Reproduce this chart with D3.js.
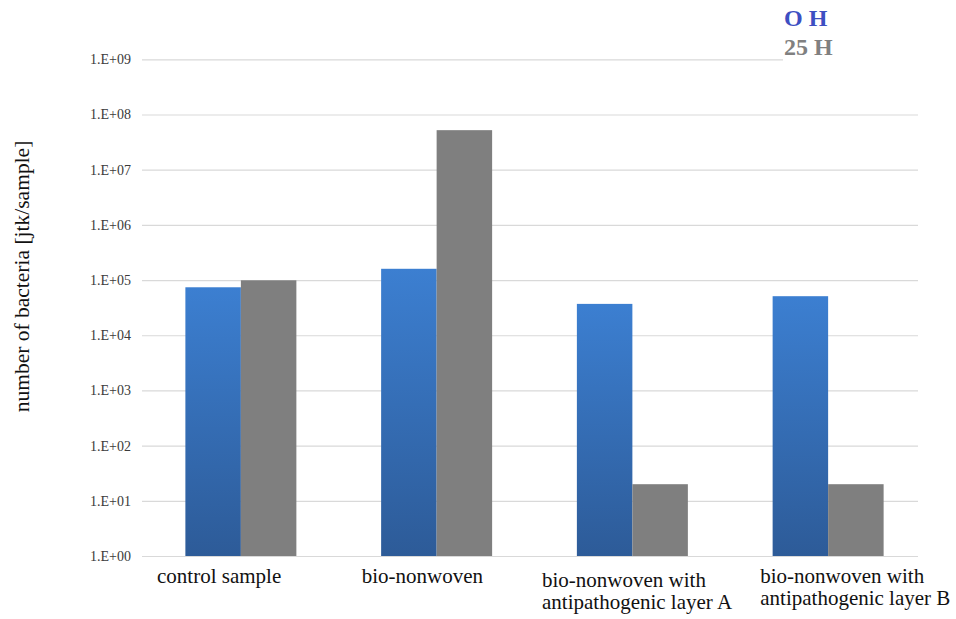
<!DOCTYPE html>
<html>
<head>
<meta charset="utf-8">
<script src="https://cdn.jsdelivr.net/npm/d3@7"></script>
<style>
  html, body { margin: 0; padding: 0; background: #fff; }
  svg { display: block; }
  text { font-family: "Liberation Serif", "DejaVu Serif", serif; }
</style>
</head>
<body>
<svg id="chart" width="956" height="619"></svg>
<script>
// ---- data ----
const categories = ["control sample", "bio-nonwoven", "bio-nonwoven with|antipathogenic layer A", "bio-nonwoven with|antipathogenic layer B"];
const seriesNames = ["O H", "25 H"];
const values0h = [74000, 160000, 37000, 51000];
const values25h = [99000, 52000000, 20, 20];
const tickValues = [1, 1e1, 1e2, 1e3, 1e4, 1e5, 1e6, 1e7, 1e8, 1e9];
const tickLabels = ["1.E+00", "1.E+01", "1.E+02", "1.E+03", "1.E+04", "1.E+05", "1.E+06", "1.E+07", "1.E+08", "1.E+09"];
const yTitle = "number of bacteria [jtk/sample]";

// ---- layout ----
const labelDx = [14, 23, 7.5, 30];   // left offset of category labels from band start
const labelBase = [583, 583, 587, 583];

const svg = d3.select("#chart");
const y = d3.scaleLog().domain([1, 1e9]).range([556, 59.3]);
const x = d3.scaleBand().domain(categories).range([143, 926]).paddingInner(0.433).paddingOuter(0.2165);
const xs = d3.scaleBand().domain(seriesNames).range([0, x.bandwidth()]);

// gradient
const defs = svg.append("defs");
const grad = defs.append("linearGradient").attr("id", "blueGrad")
  .attr("x1", 0).attr("y1", 0).attr("x2", 0).attr("y2", 1);
grad.append("stop").attr("offset", "0%").attr("stop-color", "#3c7fd1");
grad.append("stop").attr("offset", "100%").attr("stop-color", "#2d5b98");

// gridlines + tick labels via axis
const gridX0 = 142, gridX1 = 918;
const axis = d3.axisLeft(y).tickValues(tickValues)
  .tickFormat((d, i) => tickLabels[i])
  .tickSize(-(gridX1 - gridX0)).tickPadding(11);
const gAxis = svg.append("g").attr("transform", `translate(${gridX0},0)`).call(axis);
gAxis.select(".domain").remove();
gAxis.selectAll(".tick line").attr("stroke", "#d9d9d9").attr("stroke-width", 1.2);
gAxis.selectAll(".tick text").attr("fill", "#3a3a3a").style("font-size", "14px")
  .style("font-family", "'Liberation Serif', serif");

// bars
const data = categories.map((c, i) => ({ c, v: [values0h[i], values25h[i]] }));
const groups = svg.append("g").selectAll("g").data(data).join("g")
  .attr("transform", d => `translate(${x(d.c)},0)`);
groups.selectAll("rect").data(d => d.v.map((v, j) => ({ v, s: seriesNames[j] })))
  .join("rect")
  .attr("x", d => xs(d.s))
  .attr("width", xs.bandwidth())
  .attr("y", d => y(d.v))
  .attr("height", d => y(1) - y(d.v))
  .attr("fill", d => d.s === seriesNames[0] ? "url(#blueGrad)" : "#7f7f7f");

// category labels
categories.forEach((c, i) => {
  const lines = c.split("|");
  const lx = x(c) - x.step() * x.paddingInner() / 2 + labelDx[i];
  const t = svg.append("text")
    .attr("x", lx)
    .attr("y", labelBase[i])
    .attr("fill", "#111")
    .style("font-size", "21px");
  lines.forEach((ln, k) => {
    t.append("tspan").attr("x", lx).attr("dy", k === 0 ? 0 : 22).text(ln);
  });
});

// y title
svg.append("text")
  .attr("transform", `translate(29,276.5) rotate(-90)`)
  .attr("text-anchor", "middle")
  .attr("fill", "#111")
  .style("font-size", "21.5px")
  .text(yTitle);

// legend
svg.append("rect").attr("x", 783).attr("y", 0).attr("width", 173).attr("height", 62).attr("fill", "#fff");
const legColors = ["#3d4fc2", "#808080"];
seriesNames.forEach((s, i) => {
  svg.append("text")
    .attr("x", 784).attr("y", 26 + i * 28.5)
    .attr("fill", legColors[i])
    .style("font-size", "24px").style("font-weight", "bold")
    .text(s);
});
</script>
</body>
</html>
